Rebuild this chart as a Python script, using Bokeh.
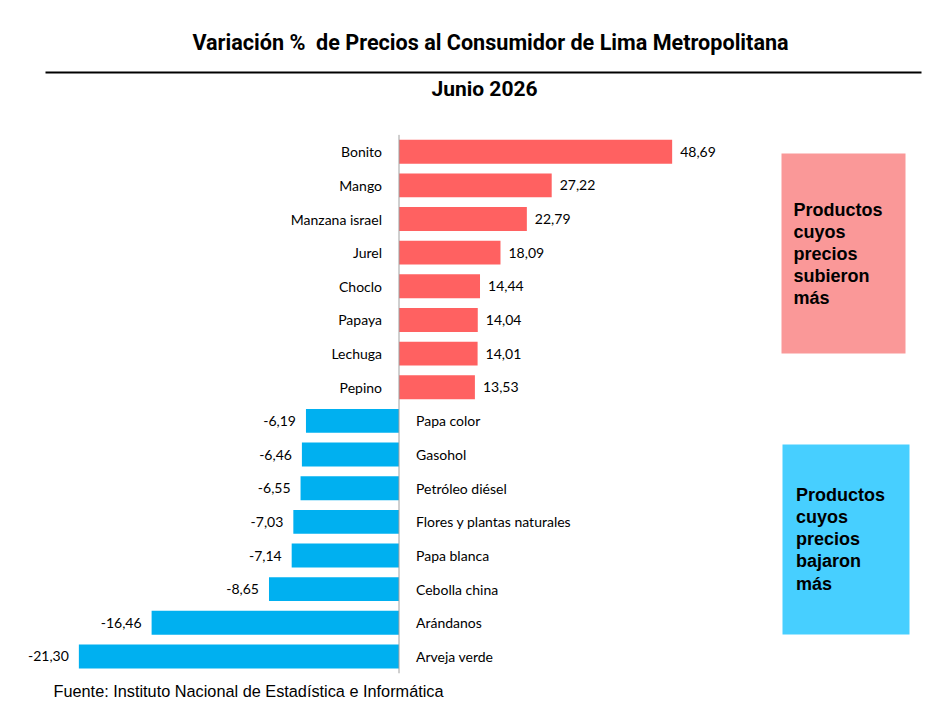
from bokeh.plotting import figure
from bokeh.models import Range1d, Label, BoxAnnotation, ColumnDataSource
from bokeh.core.properties import value
from bokeh.embed import file_html
from bokeh.resources import INLINE

# ---- data ----
up_names = ["Bonito", "Mango", "Manzana israel", "Jurel", "Choclo", "Papaya", "Lechuga", "Pepino"]
up_values = [48.69, 27.22, 22.79, 18.09, 14.44, 14.04, 14.01, 13.53]
down_names = ["Papa color", "Gasohol", "Petróleo diésel", "Flores y plantas naturales",
              "Papa blanca", "Cebolla china", "Arándanos", "Arveja verde"]
down_values = [-6.19, -6.46, -6.55, -7.03, -7.14, -8.65, -16.46, -21.30]

title_text = "Variación %\u00a0 de Precios al Consumidor de Lima Metropolitana"
subtitle_text = "Junio 2026"
source_text = "Fuente: Instituto Nacional de Estadística e Informática"
up_box_lines = ["Productos", "cuyos", "precios", "subieron", "más"]
down_box_lines = ["Productos", "cuyos", "precios", "bajaron", "más"]

# ---- layout constants (pixels) ----
W, H = 937, 710
X0 = 398.5      # pixel of zero
SX = 5.61       # px per unit, positive scale
SXN = 15.03     # px per unit, negative scale
Y0 = 151.2      # center of first row
SY = 33.65      # row spacing


def dx(px):
    return (px - X0) / SX


def dy(py):
    return (py - Y0) / SY


fmt = lambda v: f"{v:.2f}".replace(".", ",")

n_up = len(up_names)
up_idx = list(range(n_up))
down_idx = [n_up + i for i in range(len(down_names))]

p = figure(width=W, height=H, output_backend="svg", toolbar_location=None,
           x_range=Range1d(-X0 / SX, (W - X0) / SX),
           y_range=Range1d(dy(H), dy(0)),
           min_border=0, outline_line_color=None)
p.extra_x_ranges = {"neg": Range1d(-X0 / SXN, (W - X0) / SXN)}
p.axis.visible = False
p.grid.visible = False
p.background_fill_color = "white"

up_src = ColumnDataSource(dict(y=up_idx, v=up_values, name=up_names,
                               lab=[fmt(v) for v in up_values]))
dn_src = ColumnDataSource(dict(y=down_idx, v=down_values, name=down_names,
                               lab=[fmt(v) for v in down_values]))

p.hbar(y="y", left=0, right="v", height=0.71, source=up_src,
       fill_color="#FF6161", line_color=None)
p.hbar(y="y", left=0, right="v", height=0.71, source=dn_src,
       fill_color="#00B0F0", line_color=None, x_range_name="neg")

# zero line
n_all = n_up + len(down_names)
p.segment(x0=[0], x1=[0], y0=[-0.5], y1=[n_all - 0.5], line_color="#A0A0A0", line_width=1)

LBL_FONT = value("Lato")
LBL_SIZE = "14px"

# value labels
p.text(x="v", y="y", text="lab", source=up_src, x_offset=8, text_align="left",
       text_baseline="middle", text_font=LBL_FONT, text_font_size=LBL_SIZE,
       text_color="#000000")
p.text(x="v", y="y", text="lab", source=dn_src, x_offset=-10, text_align="right",
       text_baseline="middle", text_font=LBL_FONT, text_font_size=LBL_SIZE,
       text_color="#000000", x_range_name="neg")

# category labels
p.text(x=0, y="y", text="name", source=up_src, x_offset=-17, text_align="right",
       text_baseline="middle", text_font=LBL_FONT, text_font_size=LBL_SIZE,
       text_color="#000000")
p.text(x=0, y="y", text="name", source=dn_src, x_offset=17, text_align="left",
       text_baseline="middle", text_font=LBL_FONT, text_font_size=LBL_SIZE,
       text_color="#000000", x_range_name="neg")

# titles
p.add_layout(Label(x=dx(490), y=dy(41.5), text=title_text, text_align="center",
                   text_baseline="middle", text_font="Roboto",
                   text_font_style="bold", text_font_size="21.6px", text_color="black"))
p.segment(x0=[dx(45)], x1=[dx(921)], y0=[dy(72)], y1=[dy(72)], line_color="black", line_width=2)
p.add_layout(Label(x=dx(484), y=dy(88.5), text=subtitle_text, text_align="center",
                   text_baseline="middle", text_font="Roboto",
                   text_font_style="bold", text_font_size="21px", text_color="black"))

# side boxes
p.add_layout(BoxAnnotation(left=dx(781), right=dx(905), top=dy(153), bottom=dy(353),
                           fill_color="#FA9898", fill_alpha=1, line_color=None, level="underlay"))
p.add_layout(BoxAnnotation(left=dx(782), right=dx(909), top=dy(444), bottom=dy(634),
                           fill_color="#47CFFF", fill_alpha=1, line_color=None, level="underlay"))
for k, t in enumerate(up_box_lines):
    p.add_layout(Label(x=dx(793), y=dy(209.5 + 21.9 * k), text=t, text_align="left",
                       text_baseline="alphabetic", text_font="Liberation Sans",
                       text_font_style="bold", text_font_size="18px", text_color="black"))
for k, t in enumerate(down_box_lines):
    p.add_layout(Label(x=dx(795.5), y=dy(494.3 + 22.2 * k), text=t, text_align="left",
                       text_baseline="alphabetic", text_font="Liberation Sans",
                       text_font_style="bold", text_font_size="18px", text_color="black"))

# source
p.add_layout(Label(x=dx(53), y=dy(690), text=source_text, text_align="left",
                   text_baseline="middle", text_font="Liberation Sans",
                   text_font_size="16.3px", text_color="black"))

open("out.html", "w").write(file_html(p, INLINE))
